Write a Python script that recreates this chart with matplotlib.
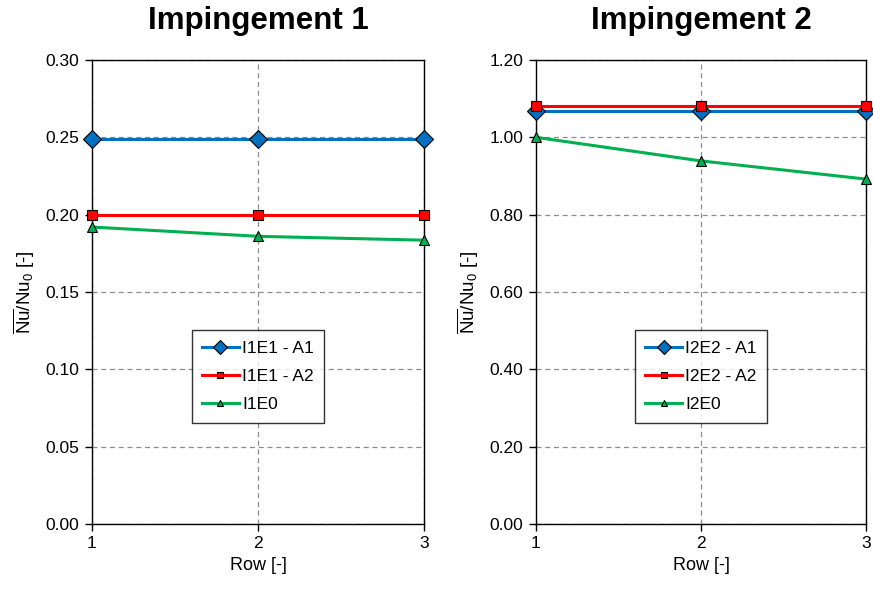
import matplotlib
matplotlib.use("Agg")

import matplotlib.pyplot as plt

plt.rcParams["font.family"] = ["Liberation Sans", "DejaVu Sans"]
plt.rcParams["mathtext.fontset"] = "custom"
plt.rcParams["mathtext.rm"] = "Liberation Sans"
plt.rcParams["mathtext.it"] = "Liberation Sans:italic"

rows = [1, 2, 3]

# Impingement 1
i1_labels = ["I1E1 - A1", "I1E1 - A2", "I1E0"]
i1_a1 = [0.249, 0.249, 0.249]
i1_a2 = [0.200, 0.200, 0.200]
i1_e0 = [0.192, 0.186, 0.1835]

# Impingement 2
i2_labels = ["I2E2 - A1", "I2E2 - A2", "I2E0"]
i2_a1 = [1.068, 1.068, 1.068]
i2_a2 = [1.081, 1.081, 1.081]
i2_e0 = [1.000, 0.939, 0.892]

panels = [
    ("Impingement 1", i1_labels, [i1_a1, i1_a2, i1_e0], 0.30, 0.05),
    ("Impingement 2", i2_labels, [i2_a1, i2_a2, i2_e0], 1.20, 0.20),
]

colors = ["#0070C0", "#FF0000", "#00B050"]
markers = ["D", "s", "^"]
msizes = [9.5, 7, 7]

fig = plt.figure(figsize=(8.73, 5.90), dpi=100)
positions = [
    [92 / 873, 1 - 524 / 590, 332 / 873, 464 / 590],
    [536 / 873, 1 - 524 / 590, 330 / 873, 464 / 590],
]

for pos, (title, labels, series, ymax, step) in zip(positions, panels):
    ax = fig.add_axes(pos)
    for vals, lab, c, m, ms in zip(series, labels, colors, markers, msizes):
        ax.plot(rows, vals, color=c, lw=2.2, marker=m, markersize=ms,
                markeredgecolor="black", markeredgewidth=0.8, label=lab,
                clip_on=False, zorder=3)
    ax.set_xlim(1, 3)
    ax.set_ylim(0, ymax)
    ax.set_xticks(rows)
    nt = int(round(ymax / step))
    ax.set_yticks([i * step for i in range(nt + 1)])
    ax.yaxis.set_major_formatter(matplotlib.ticker.FormatStrFormatter("%.2f"))
    ax.grid(True, color="#8c8c8c", linestyle=(0, (4, 3)), linewidth=0.9)
    for s in ax.spines.values():
        s.set_color("black")
        s.set_linewidth(1.0)
    ax.tick_params(direction="out", length=5, width=1, labelsize=12.5,
                   colors="black", pad=4)
    ax.set_xlabel("Row [-]", fontsize=13, labelpad=4)
    ax.set_ylabel(r"$\overline{\mathrm{Nu}}/\mathrm{Nu}_0$ [-]", fontsize=13.5,
                  labelpad=6)
    ax.set_title(title, fontsize=22.5, fontweight="bold", pad=22)
    leg = ax.legend(loc="center", bbox_to_anchor=(0.5, 0.318), fontsize=12.5,
                    frameon=True, fancybox=False, edgecolor="black",
                    handlelength=2.1, handletextpad=0.2, borderpad=0.6,
                    labelspacing=0.75, borderaxespad=0, markerscale=0.7)
    leg.get_frame().set_linewidth(1.0)

fig.savefig("out.png", dpi=100)
